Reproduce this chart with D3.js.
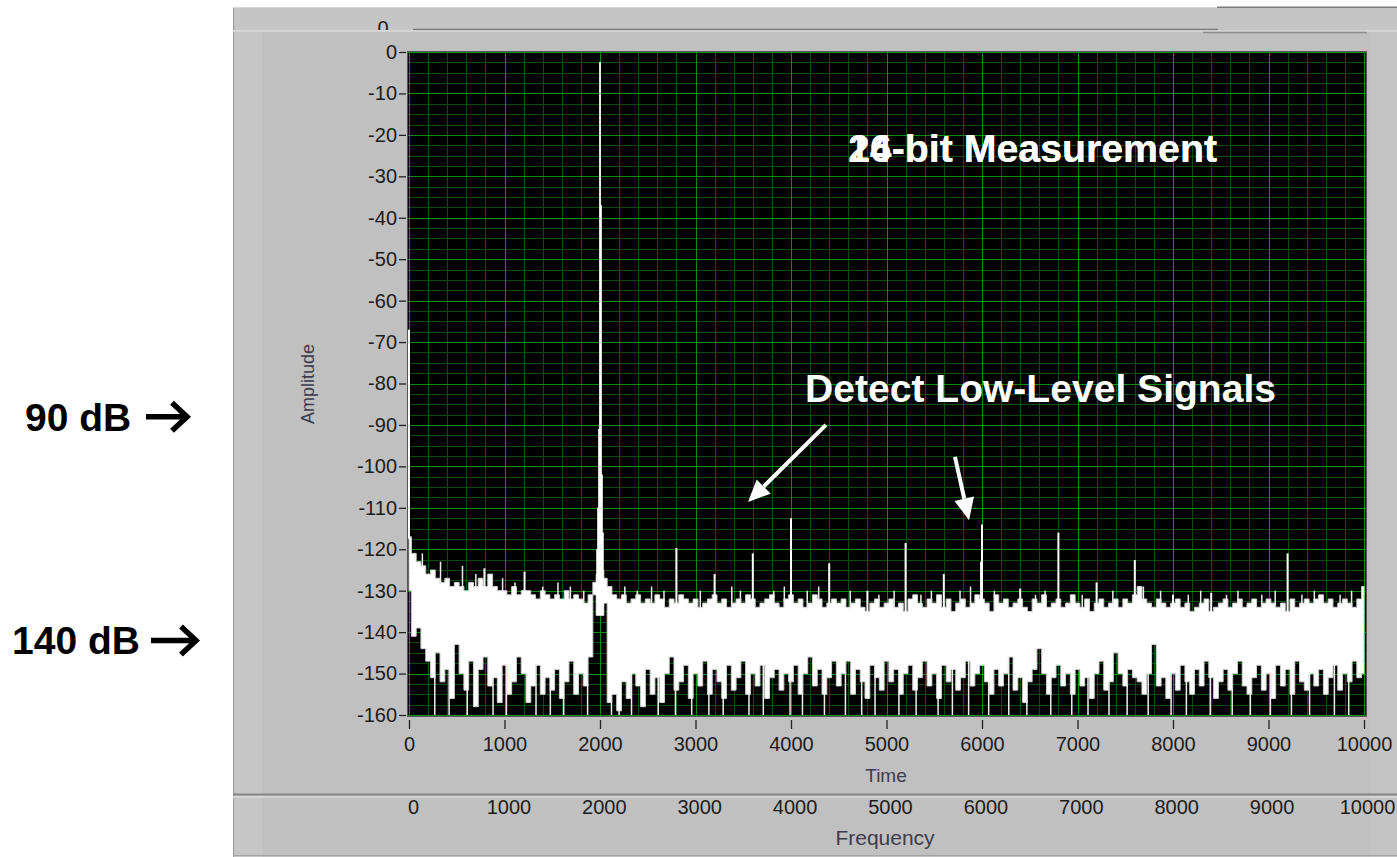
<!DOCTYPE html>
<html>
<head>
<meta charset="utf-8">
<script src="https://cdn.jsdelivr.net/npm/d3@7"></script>
<style>
  html, body { margin: 0; padding: 0; background: #fff; }
  svg { display: block; }
</style>
</head>
<body>
<svg id="chart" width="1397" height="857"></svg>
<script>
// amplitude axis (dB) and the two frequency axes
const dbTicks = [0, -10, -20, -30, -40, -50, -60, -70, -80, -90, -100, -110, -120, -130, -140, -150, -160];
const timeTicks = [0, 1000, 2000, 3000, 4000, 5000, 6000, 7000, 8000, 9000, 10000];
const freqTicks = [0, 1000, 2000, 3000, 4000, 5000, 6000, 7000, 8000, 9000, 10000];

// noise floor, one value per 50 Hz bin (0 .. 10000)
const binStep = 50;
const upperFloor = [
  -117, -121, -123, -124, -126, -125, -127, -128, -127, -129,
  -128, -129, -130, -128, -129, -127, -129, -126, -129, -130,
  -130, -131, -129, -131, -130, -130, -131, -132, -130, -131,
  -132, -131, -132, -130, -132, -131, -132, -133, -131, -128,
  -124, -127, -129, -131, -132, -131, -133, -132, -131, -133,
  -132, -133, -131, -132, -134, -132, -133, -131, -132, -133,
  -132, -134, -133, -132, -131, -133, -132, -134, -133, -132,
  -133, -131, -132, -134, -133, -132, -131, -133, -134, -132,
  -131, -133, -132, -134, -133, -131, -132, -134, -133, -132,
  -133, -132, -134, -133, -132, -134, -135, -133, -132, -134,
  -133, -132, -134, -133, -135, -132, -131, -133, -134, -132,
  -133, -131, -134, -132, -135, -133, -132, -134, -133, -131,
  -132, -133, -135, -131, -133, -132, -134, -133, -132, -134,
  -135, -132, -133, -131, -134, -133, -132, -134, -133, -131,
  -133, -134, -132, -135, -133, -132, -134, -133, -132, -134,
  -132, -133, -131, -129, -132, -133, -134, -132, -133, -134,
  -133, -132, -134, -133, -135, -134, -133, -132, -135, -134,
  -133, -132, -134, -133, -132, -134, -133, -132, -134, -133,
  -132, -133, -134, -133, -135, -132, -134, -133, -132, -133,
  -132, -131, -133, -132, -134, -133, -132, -133, -134, -132,
  -129
];
const lowerFloor = [
  -130, -141, -139, -144, -147, -151, -145, -152, -149, -156,
  -143, -150, -154, -147, -158, -149, -146, -153, -151, -157,
  -148, -155, -152, -146, -150, -157, -153, -148, -155, -151,
  -154, -149, -156, -152, -147, -155, -150, -153, -146, -131,
  -129, -133, -157, -155, -159, -152, -156, -150, -153, -158,
  -149, -155, -151, -157, -150, -146, -154, -152, -148, -156,
  -150, -153, -147, -155, -149, -152, -156, -148, -154, -151,
  -147, -155, -150, -153, -148, -156, -151, -149, -154, -150,
  -152, -148, -155, -150, -146, -153, -149, -155, -151, -147,
  -153, -150, -147, -155, -149, -152, -156, -148, -151, -154,
  -147, -152, -149, -155, -150, -148, -154, -151, -147, -153,
  -150, -156, -148, -152, -149, -154, -151, -147, -153, -150,
  -148, -152, -155, -149, -153, -150, -146, -154, -151, -157,
  -152, -149, -144, -150, -155, -151, -148, -153, -150, -155,
  -149, -153, -151, -156, -150, -147, -154, -152, -145, -150,
  -153, -149, -151, -152, -155, -150, -143, -153, -151, -156,
  -150, -154, -148, -152, -155, -149, -153, -147, -151, -156,
  -152, -149, -154, -150, -147, -153, -155, -151, -148, -154,
  -150, -156, -148, -153, -149, -155, -147, -152, -154, -150,
  -153, -149, -155, -151, -148, -154, -150, -152, -147, -151,
  -150
];

// spurs / low-level signals standing above the floor
const spurFreq = [0, 790, 1210, 2800, 3200, 3600, 4000, 4400, 4800, 5200, 5600, 5990, 6000, 6400, 6800, 7200, 7600, 8000, 8400, 9200];
const spurDb = [-67, -124.6, -125.4, -119.7, -126, -121, -112.5, -123.4, -130, -118.5, -126, -123, -114, -129.5, -116, -128, -122.6, -131, -130.5, -121];

// thin noise lines sticking out of the 16-bit floor
const grassFreq = [140, 330, 560, 700, 980, 1110, 1400, 1560, 1690, 1830, 2260, 2390, 2540, 2670, 3050, 3380, 3470, 3820, 3930, 4170,
  4290, 4620, 4920, 5080, 5360, 5470, 5770, 5880, 6130, 6560, 6660, 7050, 7370, 7690, 7870, 8160, 8290, 8560, 8680, 8930,
  9070, 9350, 9480, 9750, 9870];
const grassDb = [-121, -123, -124, -126, -127, -128, -129, -128, -129, -130, -129, -130, -129, -130, -130, -129, -130, -130, -129, -130,
  -129, -130, -131, -130, -131, -130, -130, -129, -130, -131, -130, -131, -130, -129, -130, -131, -130, -131, -130, -131,
  -130, -131, -130, -131, -130];

// thin lines of the 24-bit trace reaching down to the bottom
const dipFreq = [270, 420, 610, 880, 1020, 1330, 1480, 1620, 1870, 2120, 2200, 2330, 2610, 2790, 2960, 3140, 3290, 3560, 3710, 3990,
  4120, 4350, 4570, 4740, 4880, 5130, 5310, 5540, 5690, 5860, 6070, 6280, 6470, 6720, 6940, 7110, 7330, 7520, 7740, 7980,
  8140, 8390, 8620, 8810, 9020, 9240, 9430, 9690, 9840];

// the 2 kHz test tone
const carrierFreq = [1960, 1970, 1980, 1990, 2000, 2010, 2020, 2030, 2040];
const carrierDb = [-126, -120, -110, -91, -2.5, -37, -102, -116, -125];

const plot = { left: 408, right: 1366, top: 52, bottom: 716 };

const x = d3.scaleLinear().domain([0, 10000]).range([409, 1364]);
const xf = d3.scaleLinear().domain([0, 10000]).range([413, 1367]);
const y = d3.scaleLinear().domain([-160, 0]).range([715, 52]);

const svg = d3.select("#chart");
const labelFont = "'Liberation Sans', Arial, sans-serif";
const plain = (d) => String(d);

// LabVIEW style grey panel
svg.append("rect").attr("x", 233).attr("y", 7).attr("width", 1164).attr("height", 850).attr("fill", "#c0c0c0");
svg.append("rect").attr("x", 235).attr("y", 8).attr("width", 27).attr("height", 849).attr("fill", "#c6c6c6");
svg.append("line").attr("x1", 233.5).attr("x2", 233.5).attr("y1", 7).attr("y2", 857).attr("stroke", "#9c9c9c");
svg.append("line").attr("x1", 233).attr("x2", 1397).attr("y1", 7.5).attr("y2", 7.5).attr("stroke", "#d6d6d6");
svg.append("line").attr("x1", 1217).attr("x2", 1397).attr("y1", 7.5).attr("y2", 7.5).attr("stroke", "#7c7c7c").attr("stroke-width", 2);
svg.append("rect").attr("x", 235).attr("y", 8).attr("width", 1162).attr("height", 22).attr("fill", "#c5c5c5");

// half hidden copy of the graph underneath
svg.append("clipPath").attr("id", "topClip")
  .append("rect").attr("x", 233).attr("y", 8).attr("width", 1164).attr("height", 22);
svg.append("text")
  .attr("clip-path", "url(#topClip)")
  .attr("x", 383).attr("y", 34.5)
  .attr("text-anchor", "middle")
  .attr("font-family", labelFont).attr("font-size", 20).attr("fill", "#202020")
  .text("0");
svg.append("line").attr("x1", 413).attr("x2", 1218).attr("y1", 29.5).attr("y2", 29.5).attr("stroke", "#7a7a7a").attr("stroke-width", 1.5);
svg.append("line").attr("x1", 233).attr("x2", 1397).attr("y1", 31).attr("y2", 31).attr("stroke", "#dadada").attr("stroke-width", 1.5);
svg.append("line").attr("x1", 1203).attr("x2", 1367).attr("y1", 32.5).attr("y2", 32.5).attr("stroke", "#8c8c8c").attr("stroke-width", 1.5);
svg.append("rect").attr("x", 1371).attr("y", 32).attr("width", 26).attr("height", 825).attr("fill", "#c4c4c4");

// plot area
svg.append("rect")
  .attr("x", plot.left).attr("y", plot.top)
  .attr("width", plot.right - plot.left).attr("height", plot.bottom - plot.top)
  .attr("fill", "#000");

svg.append("clipPath").attr("id", "plotClip")
  .append("rect")
  .attr("x", plot.left).attr("y", plot.top)
  .attr("width", plot.right - plot.left).attr("height", plot.bottom - plot.top);

const grid = svg.append("g").attr("clip-path", "url(#plotClip)").attr("shape-rendering", "crispEdges");
const minorF = d3.range(0, 10001, 200).filter((f) => f % 1000 !== 0);
const minorDb = d3.range(0, -161, -2.5).filter((v) => v % 10 !== 0);
const minorColor = "#0a4c0a";
const majorColor = "#118c12";

grid.selectAll("line.vmin").data(minorF).join("line").attr("class", "vmin")
  .attr("x1", (d) => Math.round(x(d)) + 0.5).attr("x2", (d) => Math.round(x(d)) + 0.5)
  .attr("y1", plot.top).attr("y2", plot.bottom)
  .attr("stroke", minorColor);
grid.selectAll("line.hmin").data(minorDb).join("line").attr("class", "hmin")
  .attr("y1", (d) => Math.round(y(d)) + 0.5).attr("y2", (d) => Math.round(y(d)) + 0.5)
  .attr("x1", plot.left).attr("x2", plot.right)
  .attr("stroke", minorColor);
grid.selectAll("line.vmaj").data(timeTicks).join("line").attr("class", "vmaj")
  .attr("x1", (d) => Math.round(x(d)) + 0.5).attr("x2", (d) => Math.round(x(d)) + 0.5)
  .attr("y1", plot.top).attr("y2", plot.bottom)
  .attr("stroke", majorColor);
grid.selectAll("line.hmaj").data(dbTicks).join("line").attr("class", "hmaj")
  .attr("y1", (d) => Math.round(y(d)) + 0.5).attr("y2", (d) => Math.round(y(d)) + 0.5)
  .attr("x1", plot.left).attr("x2", plot.right)
  .attr("stroke", majorColor);

// spectrum: dense noise shows up as a white band between the two floors
const traces = svg.append("g").attr("clip-path", "url(#plotClip)");
const bins = upperFloor.map((u, i) => ({ f: i * binStep, hi: u, lo: lowerFloor[i] }));
const floorAt = (arr, f) => arr[Math.round(f / binStep)];

traces.append("path")
  .datum(bins)
  .attr("d", d3.area()
    .x((d) => x(d.f))
    .y0((d) => y(d.lo))
    .y1((d) => y(d.hi))
    .curve(d3.curveStep))
  .attr("fill", "#fff")
  .attr("stroke", "#d0d0d0")
  .attr("stroke-width", 1);

traces.selectAll("line.dip")
  .data(dipFreq)
  .join("line").attr("class", "dip")
  .attr("x1", (d) => x(d)).attr("x2", (d) => x(d))
  .attr("y1", (d) => y(floorAt(lowerFloor, d)) - 1)
  .attr("y2", y(-160))
  .attr("stroke", "#eee")
  .attr("stroke-width", 1.5);

traces.selectAll("line.grass")
  .data(grassFreq.map((f, i) => ({ f, db: grassDb[i] })))
  .join("line").attr("class", "grass")
  .attr("x1", (d) => x(d.f)).attr("x2", (d) => x(d.f))
  .attr("y1", (d) => y(floorAt(upperFloor, d.f)) + 2)
  .attr("y2", (d) => y(d.db))
  .attr("stroke", "#eee")
  .attr("stroke-width", 1.5);

traces.selectAll("line.spur")
  .data(spurFreq.map((f, i) => ({ f, db: spurDb[i] })))
  .join("line").attr("class", "spur")
  .attr("x1", (d) => x(d.f)).attr("x2", (d) => x(d.f))
  .attr("y1", (d) => y(floorAt(upperFloor, d.f)) + 2)
  .attr("y2", (d) => y(d.db))
  .attr("stroke", "#fff")
  .attr("stroke-width", 2);

traces.append("path")
  .datum(carrierFreq.map((f, i) => ({ f, db: carrierDb[i] })))
  .attr("d", d3.area()
    .x((d) => x(d.f))
    .y0(y(-136))
    .y1((d) => y(d.db))
    .curve(d3.curveStep))
  .attr("fill", "#fff")
  .attr("stroke", "#fff")
  .attr("stroke-width", 0.8);

// frame of the plot
svg.append("rect")
  .attr("x", plot.left - 0.5).attr("y", plot.top - 0.5)
  .attr("width", plot.right - plot.left + 1).attr("height", plot.bottom - plot.top + 1)
  .attr("fill", "none").attr("stroke", "#555");

// amplitude axis
const yAxis = svg.append("g")
  .attr("transform", "translate(406,0)")
  .call(d3.axisLeft(y).tickValues(dbTicks).tickFormat(plain).tickSize(7).tickPadding(2));
yAxis.select(".domain").remove();
yAxis.selectAll("line").attr("stroke", "#222").attr("stroke-width", 1.3);
yAxis.selectAll("text").attr("font-family", labelFont).attr("font-size", 20).attr("fill", "#1c1c1c");

svg.append("text")
  .attr("transform", "translate(314,384) rotate(-90)")
  .attr("text-anchor", "middle")
  .attr("font-family", labelFont).attr("font-size", 18).attr("fill", "#3c3c4c")
  .text("Amplitude");

// time axis
const tAxis = svg.append("g")
  .attr("transform", "translate(0,720)")
  .call(d3.axisBottom(x).tickValues(timeTicks).tickFormat(plain).tickSize(9).tickPadding(8));
tAxis.select(".domain").remove();
tAxis.selectAll("line").attr("stroke", "#222").attr("stroke-width", 1.3);
tAxis.selectAll("text").attr("font-family", labelFont).attr("font-size", 20).attr("fill", "#1c1c1c");

svg.append("text")
  .attr("x", 886).attr("y", 782)
  .attr("text-anchor", "middle")
  .attr("font-family", labelFont).attr("font-size", 19).attr("fill", "#3c3c4c")
  .text("Time");

// separator between the two scales
svg.append("line").attr("x1", 233).attr("x2", 1397).attr("y1", 794.5).attr("y2", 794.5).attr("stroke", "#868686").attr("stroke-width", 2);
svg.append("line").attr("x1", 233).attr("x2", 1397).attr("y1", 797).attr("y2", 797).attr("stroke", "#d8d8d8").attr("stroke-width", 1.5);

// frequency axis
const fAxis = svg.append("g")
  .attr("transform", "translate(0,797)")
  .call(d3.axisBottom(xf).tickValues(freqTicks).tickFormat(plain).tickSize(0).tickPadding(3));
fAxis.select(".domain").remove();
fAxis.selectAll("text").attr("font-family", labelFont).attr("font-size", 20).attr("fill", "#1c1c1c");

svg.append("text")
  .attr("x", 885).attr("y", 845)
  .attr("text-anchor", "middle")
  .attr("font-family", labelFont).attr("font-size", 21).attr("fill", "#3c3c4c")
  .text("Frequency");

svg.append("line").attr("x1", 233).attr("x2", 1397).attr("y1", 855.5).attr("y2", 855.5).attr("stroke", "#a4a4a4");

// annotations inside the graph
const boldFont = "'Liberation Sans', Arial, Helvetica, sans-serif";
const titleTexts = ["16-bit Measurement", "24-bit Measurement"];
svg.selectAll("text.title").data(titleTexts).join("text").attr("class", "title")
  .attr("x", x(4597)).attr("y", y(-26.5))
  .attr("font-family", boldFont).attr("font-weight", "bold").attr("font-size", 39)
  .attr("textLength", 369).attr("lengthAdjust", "spacingAndGlyphs")
  .attr("fill", "#fff")
  .text((d) => d);

svg.append("text")
  .attr("x", x(4147)).attr("y", y(-84.5))
  .attr("font-family", boldFont).attr("font-weight", "bold").attr("font-size", 39)
  .attr("textLength", 471).attr("lengthAdjust", "spacingAndGlyphs")
  .attr("fill", "#fff")
  .text("Detect Low-Level Signals");

function arrow(g, x1, y1, x2, y2, color, w, headLen, headW) {
  const a = Math.atan2(y2 - y1, x2 - x1);
  const bx = x2 - headLen * Math.cos(a);
  const by = y2 - headLen * Math.sin(a);
  g.append("line")
    .attr("x1", x1).attr("y1", y1).attr("x2", bx).attr("y2", by)
    .attr("stroke", color).attr("stroke-width", w);
  const px = -Math.sin(a) * headW;
  const py = Math.cos(a) * headW;
  g.append("polygon")
    .attr("points", `${x2},${y2} ${bx + px},${by + py} ${bx - px},${by - py}`)
    .attr("fill", color);
}

const pointers = [
  { from: [4366, -90], to: [3550, -108.6] },
  { from: [5717, -97.7], to: [5864, -113] },
];
const ann = svg.append("g");
pointers.forEach((p) => {
  arrow(ann, x(p.from[0]), y(p.from[1]), x(p.to[0]), y(p.to[1]), "#fff", 4, 22, 10);
});

// dynamic range labels at the left
const rangeLabels = [
  { text: "90 dB", db: -88, x0: 25, a0: 146, a1: 187 },
  { text: "140 dB", db: -142, x0: 12, a0: 151, a1: 196 },
];
const side = svg.append("g");
rangeLabels.forEach((r) => {
  const cy = y(r.db);
  side.append("text")
    .attr("x", r.x0).attr("y", cy + 14)
    .attr("font-family", boldFont).attr("font-weight", "bold").attr("font-size", 39)
    .attr("fill", "#000")
    .text(r.text);
  side.append("path")
    .attr("d", `M${r.a0},${cy} H${r.a1 - 3} M${r.a1 - 15},${cy - 14} L${r.a1},${cy} L${r.a1 - 15},${cy + 14}`)
    .attr("fill", "none").attr("stroke", "#000").attr("stroke-width", 5.5);
});
</script>
</body>
</html>
